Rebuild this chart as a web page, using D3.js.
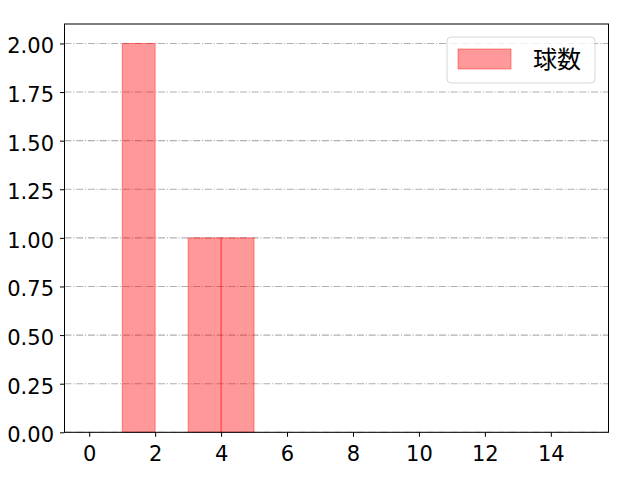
<html>
<head>
<script src="https://d3js.org/d3.v7.min.js"></script>
<style>
  body { margin: 0; background: #fff; }
  text { font-family: "DejaVu Sans", sans-serif; }
</style>
</head>
<body>
<div id="chart"></div>
<script>
  // histogram bins (left edge, right edge) and counts
  const binStarts = [1, 3, 4];
  const binEnds = [2, 4, 5];
  const counts = [2, 1, 1];
  const xTicks = [0, 2, 4, 6, 8, 10, 12, 14];
  const yTicks = [0, 0.25, 0.5, 0.75, 1.0, 1.25, 1.5, 1.75, 2.0];
  const seriesName = "球数";

  const width = 640, height = 480;
  const mLeft = 64.5, mRight = 608.5, mTop = 24, mBottom = 432.3;

  const svg = d3.select("#chart").append("svg")
    .attr("width", width).attr("height", height);

  const x = d3.scaleLinear().domain([-0.75, 15.75]).range([mLeft, mRight]);
  const y = d3.scaleLinear().domain([0, 2.1]).range([mBottom, mTop]);

  // grid
  svg.append("g")
    .selectAll("line")
    .data(yTicks)
    .join("line")
    .attr("x1", mLeft).attr("x2", mRight)
    .attr("y1", d => y(d)).attr("y2", d => y(d))
    .attr("stroke", "#b0b0b0")
    .attr("stroke-width", 1.1)
    .attr("stroke-dasharray", "7,1.8,1.1,1.8");

  // bars
  svg.append("g")
    .selectAll("rect")
    .data(counts)
    .join("rect")
    .attr("x", (d, i) => x(binStarts[i]))
    .attr("width", (d, i) => x(binEnds[i]) - x(binStarts[i]))
    .attr("y", d => y(d))
    .attr("height", d => y(0) - y(d))
    .attr("fill", "rgba(255,0,0,0.4)")
    .attr("stroke", "rgba(255,0,0,0.4)")
    .attr("stroke-width", 1);

  // axes
  const xAxis = svg.append("g")
    .attr("transform", `translate(0,${mBottom})`)
    .call(d3.axisBottom(x).tickValues(xTicks).tickSize(4.5).tickPadding(5).tickFormat(d3.format("d")));
  const yAxis = svg.append("g")
    .attr("transform", `translate(${mLeft},0)`)
    .call(d3.axisLeft(y).tickValues(yTicks).tickSize(4.5).tickPadding(6).tickFormat(d3.format(".2f")));

  [xAxis, yAxis].forEach(g => {
    g.select(".domain").remove();
    g.selectAll("text").attr("font-size", 21).attr("fill", "#000")
      .style("font-family", '"DejaVu Sans", sans-serif');
    g.selectAll("line").attr("stroke", "#000").attr("stroke-width", 1);
  });
  xAxis.selectAll("text").attr("dy", "0.9em");
  yAxis.selectAll("text").attr("dy", "0.45em");

  // frame
  svg.append("rect")
    .attr("x", mLeft).attr("y", mTop)
    .attr("width", mRight - mLeft).attr("height", mBottom - mTop)
    .attr("fill", "none").attr("stroke", "#000").attr("stroke-width", 1);

  // legend
  const lg = svg.append("g");
  lg.append("rect")
    .attr("x", 447).attr("y", 37).attr("width", 148).attr("height", 46)
    .attr("rx", 4)
    .attr("fill", "rgba(255,255,255,0.8)")
    .attr("stroke", "#d6d6d6").attr("stroke-width", 1);
  lg.append("rect")
    .attr("x", 458).attr("y", 49).attr("width", 53).attr("height", 20)
    .attr("fill", "rgba(255,0,0,0.4)")
    .attr("stroke", "rgba(255,0,0,0.4)").attr("stroke-width", 1);
  lg.append("text")
    .attr("x", 533).attr("y", 68)
    .attr("font-size", 24).attr("fill", "#000")
    .style("font-family", '"Noto Sans CJK JP", sans-serif')
    .text(seriesName);
</script>
</body>
</html>
